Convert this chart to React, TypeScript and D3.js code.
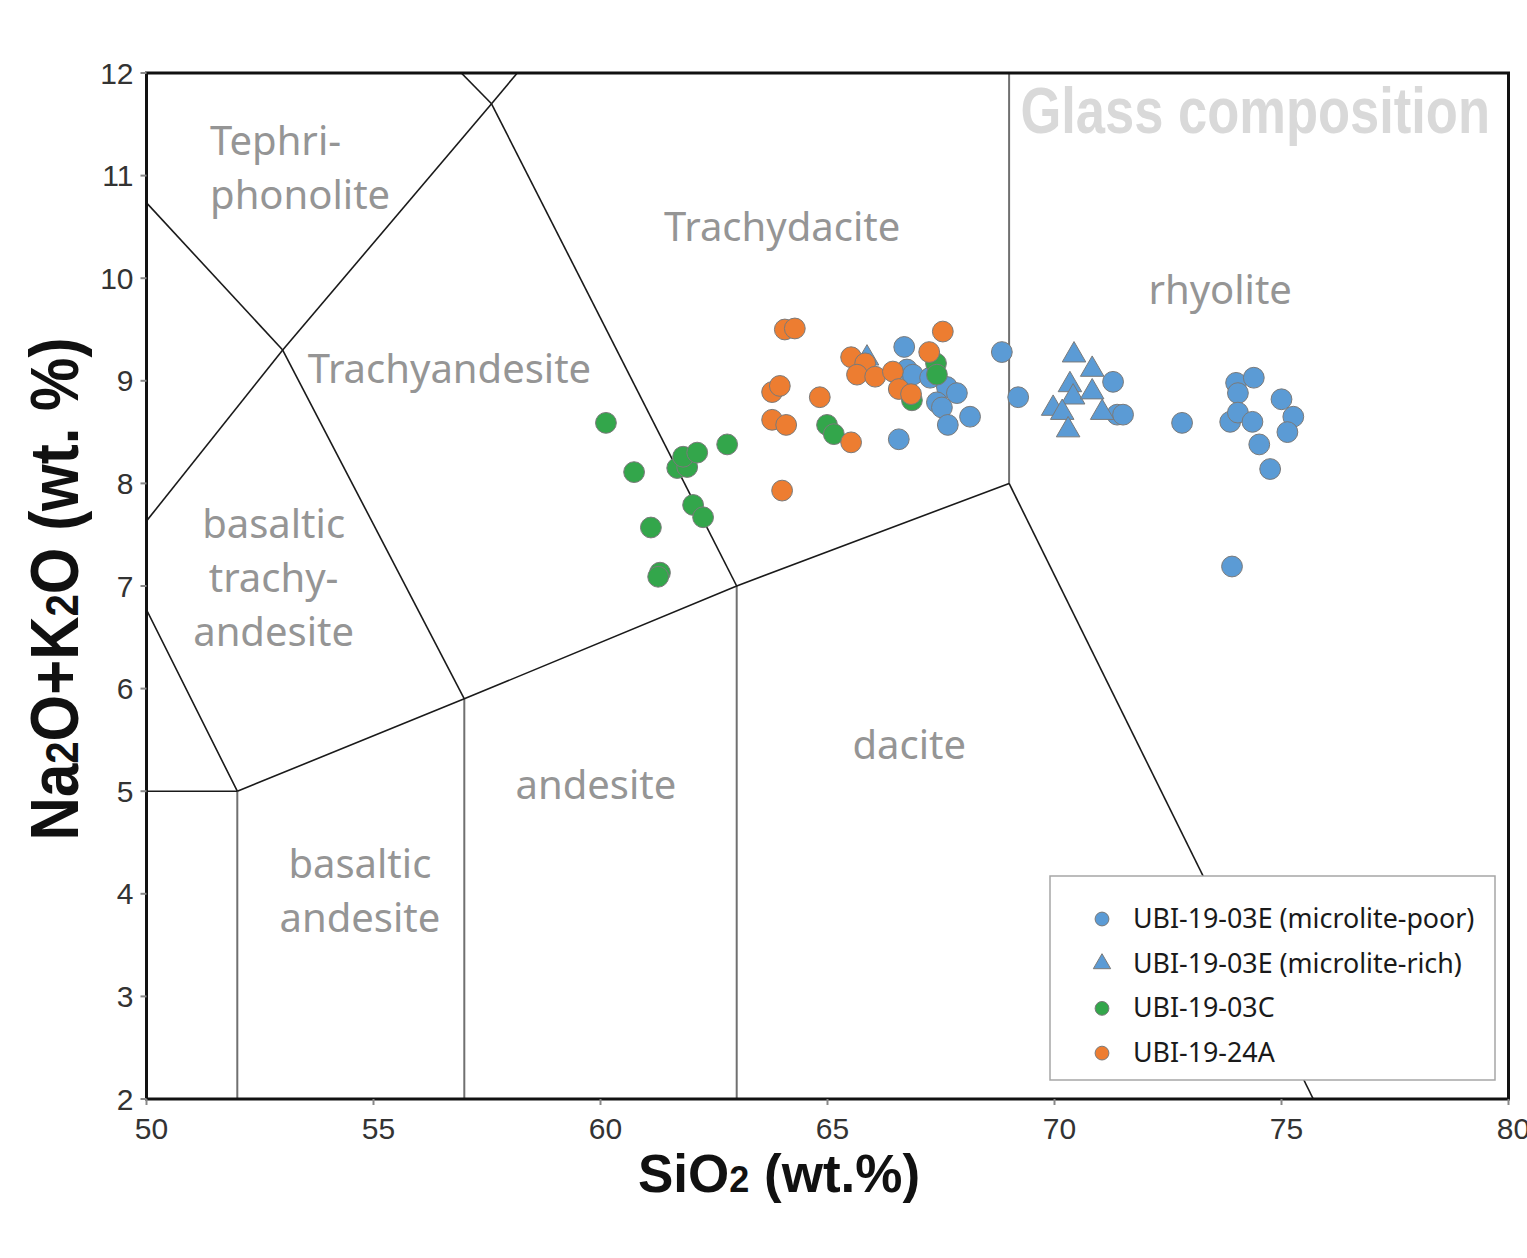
import React from "react";
import * as d3 from "d3";

const W = 1527;
const H = 1258;

// Axis ticks
const xTicks = [50, 55, 60, 65, 70, 75, 80];
const yTicks = [2, 3, 4, 5, 6, 7, 8, 9, 10, 11, 12];

// TAS boundary polylines (SiO2, Na2O+K2O)
const tasBlack: [number, number][][] = [
  [[45, 5], [52, 5]],
  [[52, 5], [57, 5.9], [63, 7], [69, 8]],
  [[69, 8], [75.7, 2]],
  [[45, 9.4], [49.4, 7.3], [52, 5]],
  [[49.4, 7.3], [53, 9.3]],
  [[53, 9.3], [57, 5.9]],
  [[53, 9.3], [57.6, 11.7]],
  [[57.6, 11.7], [63, 7]],
  [[48.4, 11.5], [53, 9.3]],
  [[52.5, 14], [57.6, 11.7]],
  [[57.6, 11.7], [61, 13.5]],
];
const tasGray: [number, number][][] = [
  [[52, 5], [52, 0]],
  [[57, 5.9], [57, 0]],
  [[63, 7], [63, 0]],
  [[69, 8], [69, 13]],
];

// Field labels
const fieldLabels = [
  { lines: ["Tephri-", "phonolite"], x: 51.4, y: 11.2, anchor: "start" },
  { lines: ["Trachydacite"], x: 64.0, y: 10.36, anchor: "middle" },
  { lines: ["rhyolite"], x: 73.65, y: 9.75, anchor: "middle" },
  { lines: ["Trachyandesite"], x: 53.55, y: 8.98, anchor: "start" },
  { lines: ["basaltic", "trachy-", "andesite"], x: 52.8, y: 7.47, anchor: "middle" },
  { lines: ["dacite"], x: 66.8, y: 5.31, anchor: "middle" },
  { lines: ["andesite"], x: 59.9, y: 4.92, anchor: "middle" },
  { lines: ["basaltic", "andesite"], x: 54.7, y: 4.15, anchor: "middle" },
];

// Data: UBI-19-03E (microlite-poor)
const poorSi = [66.69, 68.84, 69.2, 66.57, 66.75, 66.88, 67.26, 67.63, 67.85, 67.41, 67.52, 68.14, 67.65, 71.29, 71.38, 71.51, 72.81, 74.0, 74.39, 74.04, 73.87, 74.04, 74.36, 75.0, 75.26, 75.13, 74.51, 74.75, 73.91];
const poorAlk = [9.33, 9.28, 8.84, 8.43, 9.11, 9.06, 9.03, 8.94, 8.88, 8.79, 8.74, 8.65, 8.57, 8.99, 8.67, 8.67, 8.59, 8.98, 9.03, 8.88, 8.6, 8.69, 8.6, 8.82, 8.65, 8.5, 8.38, 8.14, 7.19];

// UBI-19-03E (microlite-rich)
const richSi = [70.43, 70.83, 70.34, 70.41, 70.83, 69.97, 70.17, 71.05, 70.3, 65.87];
const richAlk = [9.25, 9.11, 8.96, 8.84, 8.89, 8.73, 8.69, 8.69, 8.52, 9.22];

// UBI-19-03C
const cSi = [60.12, 60.74, 61.11, 61.31, 61.27, 62.04, 62.26, 61.69, 61.91, 61.82, 62.13, 62.79, 64.99, 65.14, 67.39, 67.41, 66.86];
const cAlk = [8.59, 8.11, 7.57, 7.13, 7.09, 7.79, 7.67, 8.15, 8.16, 8.26, 8.3, 8.38, 8.57, 8.48, 9.17, 9.06, 8.81];

// UBI-19-24A
const aSi = [64.06, 64.28, 65.52, 65.83, 65.65, 66.05, 66.44, 66.57, 66.84, 67.54, 67.24, 63.78, 63.95, 64.83, 63.78, 64.09, 65.52, 64.0];
const aAlk = [9.5, 9.51, 9.23, 9.17, 9.06, 9.04, 9.09, 8.92, 8.87, 9.48, 9.28, 8.89, 8.95, 8.84, 8.62, 8.57, 8.4, 7.93];

const series = [
  { name: "UBI-19-03E (microlite-poor)", si: poorSi, alk: poorAlk, color: "#5b9bd5", shape: "circle" },
  { name: "UBI-19-03E (microlite-rich)", si: richSi, alk: richAlk, color: "#5b9bd5", shape: "triangle" },
  { name: "UBI-19-03C", si: cSi, alk: cAlk, color: "#33a64b", shape: "circle" },
  { name: "UBI-19-24A", si: aSi, alk: aAlk, color: "#ed7d31", shape: "circle" },
];

export default function App() {
  const x = d3.scaleLinear().domain([50, 80]).range([146.5, 1508.5]);
  const y = d3.scaleLinear().domain([2, 12]).range([1099, 73]);
  const line = d3.line<[number, number]>().x((d) => x(d[0])).y((d) => y(d[1]));
  const circleSym = d3.symbol().type(d3.symbolCircle);
  const triSym = d3.symbol().type(d3.symbolTriangle);
  const markerPath = (shape: string, size: number) =>
    shape === "circle" ? circleSym.size(size)() : triSym.size(size)();

  const x0 = x(50), x1 = x(80), y0 = y(12), y1 = y(2);
  const labelColor = "#959595";
  const labelFont = "'Noto Sans', sans-serif";

  const legendX = 1050, legendY = 876, legendW = 445, legendH = 204;

  return (
    <svg width={W} height={H} style={{ position: "absolute", left: 0, top: 0, background: "#fff" }}>
      <defs>
        <clipPath id="plotClip">
          <rect x={x0} y={y0} width={x1 - x0} height={y1 - y0} />
        </clipPath>
      </defs>
      <rect x={0} y={0} width={W} height={H} fill="#fff" />

      <g clipPath="url(#plotClip)">
        {tasGray.map((seg, i) => (
          <path key={"g" + i} d={line(seg) || ""} fill="none" stroke="#707070" strokeWidth={2} />
        ))}
        {tasBlack.map((seg, i) => (
          <path key={"b" + i} d={line(seg) || ""} fill="none" stroke="#1a1a1a" strokeWidth={1.6} />
        ))}
      </g>

      {fieldLabels.map((lab, i) => (
        <text
          key={"l" + i}
          x={x(lab.x)}
          y={y(lab.y)}
          textAnchor={lab.anchor as any}
          fill={labelColor}
          fontFamily={labelFont}
          fontSize={40}
        >
          {lab.lines.map((t, j) => (
            <tspan key={j} x={x(lab.x)} dy={j === 0 ? 0 : 54}>
              {t}
            </tspan>
          ))}
        </text>
      ))}

      <text
        x={1490}
        y={133}
        textAnchor="end"
        fill="#d9d9d9"
        fontFamily="'Liberation Sans', Arial, sans-serif"
        fontWeight="bold"
        fontSize={52.5}
        transform={`translate(0,133) scale(1,1.22) translate(0,-133)`}
      >
        Glass composition
      </text>

      {/* data */}
      {series.map((s, si) => (
        <g key={"s" + si}>
          {s.si.map((v, i) => (
            <path
              key={i}
              d={markerPath(s.shape, s.shape === "circle" ? 340 : 240) || ""}
              transform={`translate(${x(v)},${y(s.alk[i])})`}
              fill={s.color}
              stroke="#7a7a7a"
              strokeWidth={1}
            />
          ))}
        </g>
      ))}

      {/* frame */}
      <rect x={x0} y={y0} width={x1 - x0} height={y1 - y0} fill="none" stroke="#111" strokeWidth={3} />

      {/* ticks */}
      {xTicks.map((t) => (
        <g key={"xt" + t}>
          <line x1={x(t)} x2={x(t)} y1={y1} y2={y1 + 6} stroke="#888" strokeWidth={2} />
          <text
            x={x(t) + 5}
            y={y1 + 40}
            textAnchor="middle"
            fontFamily="'Liberation Sans', Arial, sans-serif"
            fontSize={30}
            fill="#333"
          >
            {t}
          </text>
        </g>
      ))}
      {yTicks.map((t) => (
        <g key={"yt" + t}>
          <line x1={x0 - 6} x2={x0} y1={y(t)} y2={y(t)} stroke="#888" strokeWidth={2} />
          <text
            x={x0 - 13}
            y={y(t) + 10.5}
            textAnchor="end"
            fontFamily="'Liberation Sans', Arial, sans-serif"
            fontSize={30}
            fill="#333"
          >
            {t}
          </text>
        </g>
      ))}

      {/* axis titles */}
      <text
        x={779}
        y={1192}
        textAnchor="middle"
        fontFamily="'Liberation Sans', Arial, sans-serif"
        fontWeight="bold"
        fontSize={53}
        fill="#111"
      >
        SiO<tspan fontSize={36}>2</tspan> (wt.%)
      </text>
      <text
        transform="translate(78,589) rotate(-90) scale(1,1.15)"
        textAnchor="middle"
        fontFamily="'Liberation Sans', Arial, sans-serif"
        fontWeight="bold"
        fontSize={60}
        fill="#111"
      >
        Na<tspan fontSize={40}>2</tspan>O+K<tspan fontSize={40}>2</tspan>O (wt. %)
      </text>

      {/* legend */}
      <rect x={legendX} y={legendY} width={legendW} height={legendH} fill="#fff" stroke="#a6a6a6" strokeWidth={1.5} />
      {series.map((s, i) => {
        const cy = 919 + i * 44.7;
        return (
          <g key={"lg" + i}>
            <path
              d={markerPath(s.shape, s.shape === "circle" ? 150 : 130) || ""}
              transform={`translate(1102,${cy})`}
              fill={s.color}
              stroke="#7a7a7a"
              strokeWidth={1}
            />
            <text x={1133} y={cy + 9} fontFamily={labelFont} fontSize={26.8} fill="#1a1a1a">
              {s.name}
            </text>
          </g>
        );
      })}
    </svg>
  );
}
